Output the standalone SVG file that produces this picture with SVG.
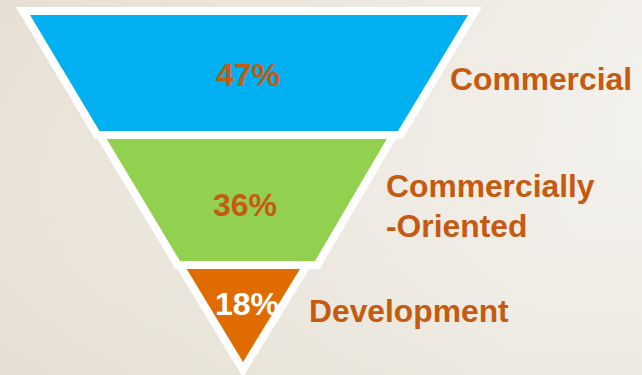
<svg xmlns="http://www.w3.org/2000/svg" width="642" height="375" viewBox="0 0 642 375">
<defs>
<linearGradient id="bg" x1="0" y1="0" x2="1" y2="0.3">
<stop offset="0" stop-color="#E7DFD3"/>
<stop offset="1" stop-color="#F3F1EC"/>
</linearGradient>
<linearGradient id="bgv" x1="0" y1="0" x2="0" y2="1">
<stop offset="0" stop-color="#FFFFFF" stop-opacity="0"/>
<stop offset="1" stop-color="#D8D2BE" stop-opacity="0.25"/>
</linearGradient>
<style>
.seg{stroke:#FFFFFF;stroke-width:16;stroke-linejoin:miter;paint-order:stroke}
.pct{font-family:"Liberation Sans",Arial,sans-serif;font-weight:bold;font-size:32px;text-anchor:middle;fill:#C55A11}
.lbl{font-family:"Liberation Sans",Arial,sans-serif;font-weight:bold;font-size:31.8px;fill:#C55A11}
</style>
</defs>
<rect width="642" height="375" fill="url(#bg)"/>
<rect width="642" height="375" fill="url(#bgv)"/>
<g id="commercial">
<polygon class="seg" points="30,15 468,15 398,131 99.5,131" fill="#00B0F0"/>
<text class="pct" x="248" y="86">47%</text>
<text class="lbl" x="450" y="90">Commercial</text>
</g>
<g id="commercially-oriented">
<polygon class="seg" points="106.7,139 386.7,139 315,261 180,261" fill="#92D050"/>
<text class="pct" x="245" y="216">36%</text>
<text class="lbl" x="386" y="197">Commercially</text>
<text class="lbl" x="386" y="237">-Oriented</text>
</g>
<g id="development">
<polygon class="seg" points="186.7,269 300,269 243,362" fill="#E06C00"/>
<text class="pct" x="247" y="315" style="fill:#FFFFFF">18%</text>
<text class="lbl" x="309" y="322">Development</text>
</g>
<g id="connectors"></g>
</svg>
